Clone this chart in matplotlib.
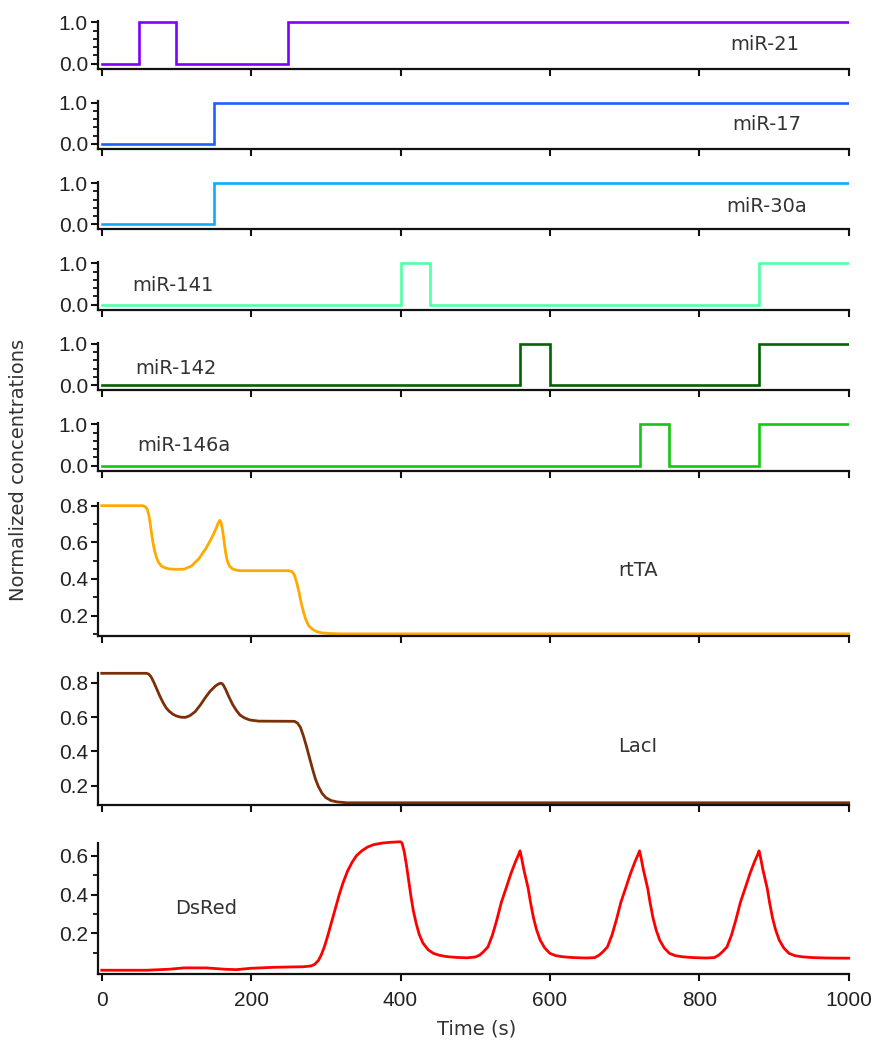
#!/usr/bin/env python3
"""Stacked time courses of miRNA inputs and circuit outputs."""

import matplotlib

matplotlib.use('Agg')
import matplotlib.pyplot as plt
from matplotlib.ticker import FixedLocator

# step inputs: switching times and levels (steps-post)
MIR_NAMES = ['miR-21', 'miR-17', 'miR-30a', 'miR-141', 'miR-142', 'miR-146a']
MIR_COLORS = ['#7f00ff', '#2060ff', '#10aaff', '#50ffa8', '#006400', '#10c810']
MIR_T = [
    [0, 50, 100, 250, 1000],
    [0, 150, 1000],
    [0, 150, 1000],
    [0, 400, 440, 880, 1000],
    [0, 560, 600, 880, 1000],
    [0, 720, 760, 880, 1000],
]
MIR_V = [
    [0, 1, 0, 1, 1],
    [0, 1, 1],
    [0, 1, 1],
    [0, 1, 0, 1, 1],
    [0, 1, 0, 1, 1],
    [0, 1, 0, 1, 1],
]
MIR_LABEL_XY = [(887, 0.45), (890, 0.47), (890, 0.44), (95, 0.46), (100, 0.40), (110, 0.48)]

RTTA_T = [0, 55, 58, 61, 63, 65, 67, 69, 71, 73, 76, 80, 85, 90, 100, 110, 120, 130,
          140, 148, 153, 156, 158, 160, 162, 164, 166, 168, 171, 175, 180, 187, 200,
          250, 255, 258, 261, 264, 267, 270, 273, 277, 282, 288, 295, 305, 320, 1000]
RTTA_V = [0.80, 0.80, 0.795, 0.78, 0.75, 0.70, 0.64, 0.59, 0.55, 0.52, 0.49, 0.47,
          0.46, 0.455, 0.452, 0.453, 0.47, 0.51, 0.57, 0.63, 0.675, 0.705, 0.72,
          0.705, 0.66, 0.60, 0.54, 0.50, 0.47, 0.455, 0.448, 0.445, 0.445, 0.445,
          0.44, 0.42, 0.38, 0.33, 0.27, 0.22, 0.18, 0.145, 0.125, 0.112, 0.105,
          0.102, 0.10, 0.10]

LACI_T = [0, 60, 63, 66, 70, 74, 78, 82, 86, 90, 95, 100, 106, 112, 118, 125, 132,
          138, 145, 152, 156, 159, 161, 163, 166, 170, 175, 180, 185, 191, 198, 210,
          258, 262, 266, 270, 274, 278, 282, 286, 290, 295, 300, 307, 315, 328, 1000]
LACI_V = [0.855, 0.855, 0.85, 0.835, 0.80, 0.76, 0.72, 0.685, 0.655, 0.635, 0.617,
          0.606, 0.599, 0.598, 0.608, 0.631, 0.67, 0.709, 0.75, 0.78, 0.792, 0.797,
          0.795, 0.785, 0.76, 0.72, 0.675, 0.64, 0.612, 0.595, 0.583, 0.576, 0.575,
          0.565, 0.54, 0.49, 0.43, 0.365, 0.30, 0.24, 0.195, 0.155, 0.13, 0.113,
          0.105, 0.10, 0.10]

DSRED_T = (
    [0, 60, 90, 110, 140, 165, 180, 200, 230, 270]
    + [280, 285, 290, 294, 298, 302, 306, 310, 314, 318, 323, 329, 335, 341, 348, 356, 364, 375, 386, 400]
    + [402, 405, 408, 411, 414, 417, 421, 425, 430, 437, 444, 452, 462, 475, 489]
    + [500, 506, 511, 517, 523, 529, 535, 542, 548, 554, 558, 560]
    + [562, 565, 568, 571, 574, 578, 582, 587, 593, 600, 608, 618, 632, 649, 660]
    + [666, 671, 677, 683, 689, 695, 702, 708, 714, 718, 720]
    + [722, 725, 728, 731, 734, 738, 742, 747, 753, 760, 768, 778, 792, 809, 820]
    + [826, 831, 837, 843, 849, 855, 862, 868, 874, 878, 880]
    + [882, 885, 888, 891, 894, 898, 902, 907, 913, 920, 928, 938, 952, 970, 1000]
)
DSRED_V = (
    [0.01, 0.01, 0.015, 0.022, 0.022, 0.015, 0.013, 0.02, 0.025, 0.028]
    + [0.032, 0.04, 0.06, 0.09, 0.13, 0.18, 0.235, 0.29, 0.345, 0.40, 0.46, 0.52, 0.565, 0.60, 0.625,
       0.645, 0.657, 0.665, 0.669, 0.672]
    + [0.665, 0.62, 0.55, 0.47, 0.39, 0.32, 0.25, 0.195, 0.15, 0.115, 0.097, 0.087, 0.08, 0.076, 0.074]
    + [0.078, 0.088, 0.105, 0.13, 0.19, 0.27, 0.36, 0.44, 0.51, 0.57, 0.605, 0.625]
    + [0.59, 0.53, 0.48, 0.43, 0.36, 0.28, 0.22, 0.165, 0.125, 0.097, 0.085, 0.079, 0.075, 0.073, 0.075]
    + [0.088, 0.105, 0.13, 0.19, 0.27, 0.36, 0.44, 0.51, 0.57, 0.605, 0.625]
    + [0.59, 0.53, 0.48, 0.43, 0.36, 0.28, 0.22, 0.165, 0.125, 0.097, 0.085, 0.079, 0.075, 0.073, 0.075]
    + [0.088, 0.105, 0.13, 0.19, 0.27, 0.36, 0.44, 0.51, 0.57, 0.605, 0.625]
    + [0.59, 0.53, 0.48, 0.43, 0.36, 0.28, 0.22, 0.165, 0.125, 0.097, 0.085, 0.079, 0.075, 0.073, 0.072]
)

OUT_NAMES = ['rtTA', 'LacI', 'DsRed']
OUT_COLORS = ['#ffaa00', '#7a3008', '#ff0000']
OUT_LABEL_XY = [(718, 0.445), (718, 0.43), (140, 0.33)]
OUT_MAJOR = [[0.2, 0.4, 0.6, 0.8], [0.2, 0.4, 0.6, 0.8], [0.2, 0.4, 0.6]]
OUT_MINOR = [[0.1, 0.3, 0.5, 0.7], [], [0.1, 0.3, 0.5]]
OUT_YLIM = [(0.09, 0.813), (0.087, 0.855), (-0.011, 0.664)]

W, H = 877, 1048
AX_LEFT, AX_RIGHT = 97.7, 848.7
STEP_BOTTOMS = [68.5, 148.9, 229.3, 309.7, 390.1, 470.5]
STEP_HEIGHT = 47.5
OUT_BOXES = [(503.3, 635.7), (673.3, 805.0), (843.3, 974.3)]

TEXT_FONT = ['DejaVu Sans']


def style_axes(ax, show_x_labels):
    for side in ('top', 'right'):
        ax.spines[side].set_visible(False)
    for side in ('left', 'bottom'):
        ax.spines[side].set_linewidth(1.6)
        ax.spines[side].set_color('#111111')
    ax.set_xlim(-5.4, 1000)
    ax.set_xticks([0, 200, 400, 600, 800, 1000])
    ax.tick_params(axis='both', which='major', direction='out', length=5,
                   width=1.5, color='#111111', labelsize=15, labelcolor='#222222')
    ax.tick_params(axis='y', which='major', pad=2)
    ax.tick_params(axis='x', which='major', pad=7)
    ax.tick_params(axis='y', which='minor', direction='out', length=3.5,
                   width=1.3, color='#111111')
    if not show_x_labels:
        ax.tick_params(axis='x', labelbottom=False)


def add_axes(fig, top_px, bottom_px):
    return fig.add_axes([AX_LEFT / W, 1 - bottom_px / H,
                         (AX_RIGHT - AX_LEFT) / W, (bottom_px - top_px) / H])


def main() -> None:
    plt.rcParams['font.family'] = ['Liberation Sans', 'DejaVu Sans']
    fig = plt.figure(figsize=(W / 100, H / 100), dpi=100)

    for i, name in enumerate(MIR_NAMES):
        bottom = STEP_BOTTOMS[i]
        ax = add_axes(fig, bottom - STEP_HEIGHT, bottom)
        ax.plot(MIR_T[i], MIR_V[i], drawstyle='steps-post', color=MIR_COLORS[i],
                lw=1.9, solid_joinstyle='miter')
        ax.set_ylim(-0.12, 1.03)
        ax.set_yticks([0.0, 1.0])
        ax.set_yticklabels(['0.0', '1.0'])
        ax.yaxis.set_minor_locator(FixedLocator([0.2, 0.4, 0.6, 0.8]))
        style_axes(ax, False)
        lx, ly = MIR_LABEL_XY[i]
        ax.text(lx, ly, name, ha='center', va='center', fontsize=14,
                family=TEXT_FONT, color='#333333')

    out_t = [RTTA_T, LACI_T, DSRED_T]
    out_v = [RTTA_V, LACI_V, DSRED_V]
    for i, name in enumerate(OUT_NAMES):
        top, bottom = OUT_BOXES[i]
        ax = add_axes(fig, top, bottom)
        ax.plot(out_t[i], out_v[i], color=OUT_COLORS[i], lw=2.0,
                solid_joinstyle='round', clip_on=False)
        ax.set_ylim(*OUT_YLIM[i])
        ax.yaxis.set_major_locator(FixedLocator(OUT_MAJOR[i]))
        ax.yaxis.set_minor_locator(FixedLocator(OUT_MINOR[i]))
        ax.set_yticklabels([f'{v:.1f}' for v in OUT_MAJOR[i]])
        style_axes(ax, i == len(OUT_NAMES) - 1)
        lx, ly = OUT_LABEL_XY[i]
        ax.text(lx, ly, name, ha='center', va='center', fontsize=14,
                family=TEXT_FONT, color='#333333')

    fig.text(0.543, 0.018, 'Time (s)', ha='center', va='center', fontsize=14,
             family=TEXT_FONT, color='#333333')
    fig.text(0.021, 0.5515, 'Normalized concentrations', ha='center', va='center',
             rotation=90, fontsize=14, family=TEXT_FONT, color='#333333')

    fig.savefig('out.png', dpi=100)


if __name__ == '__main__':
    main()
